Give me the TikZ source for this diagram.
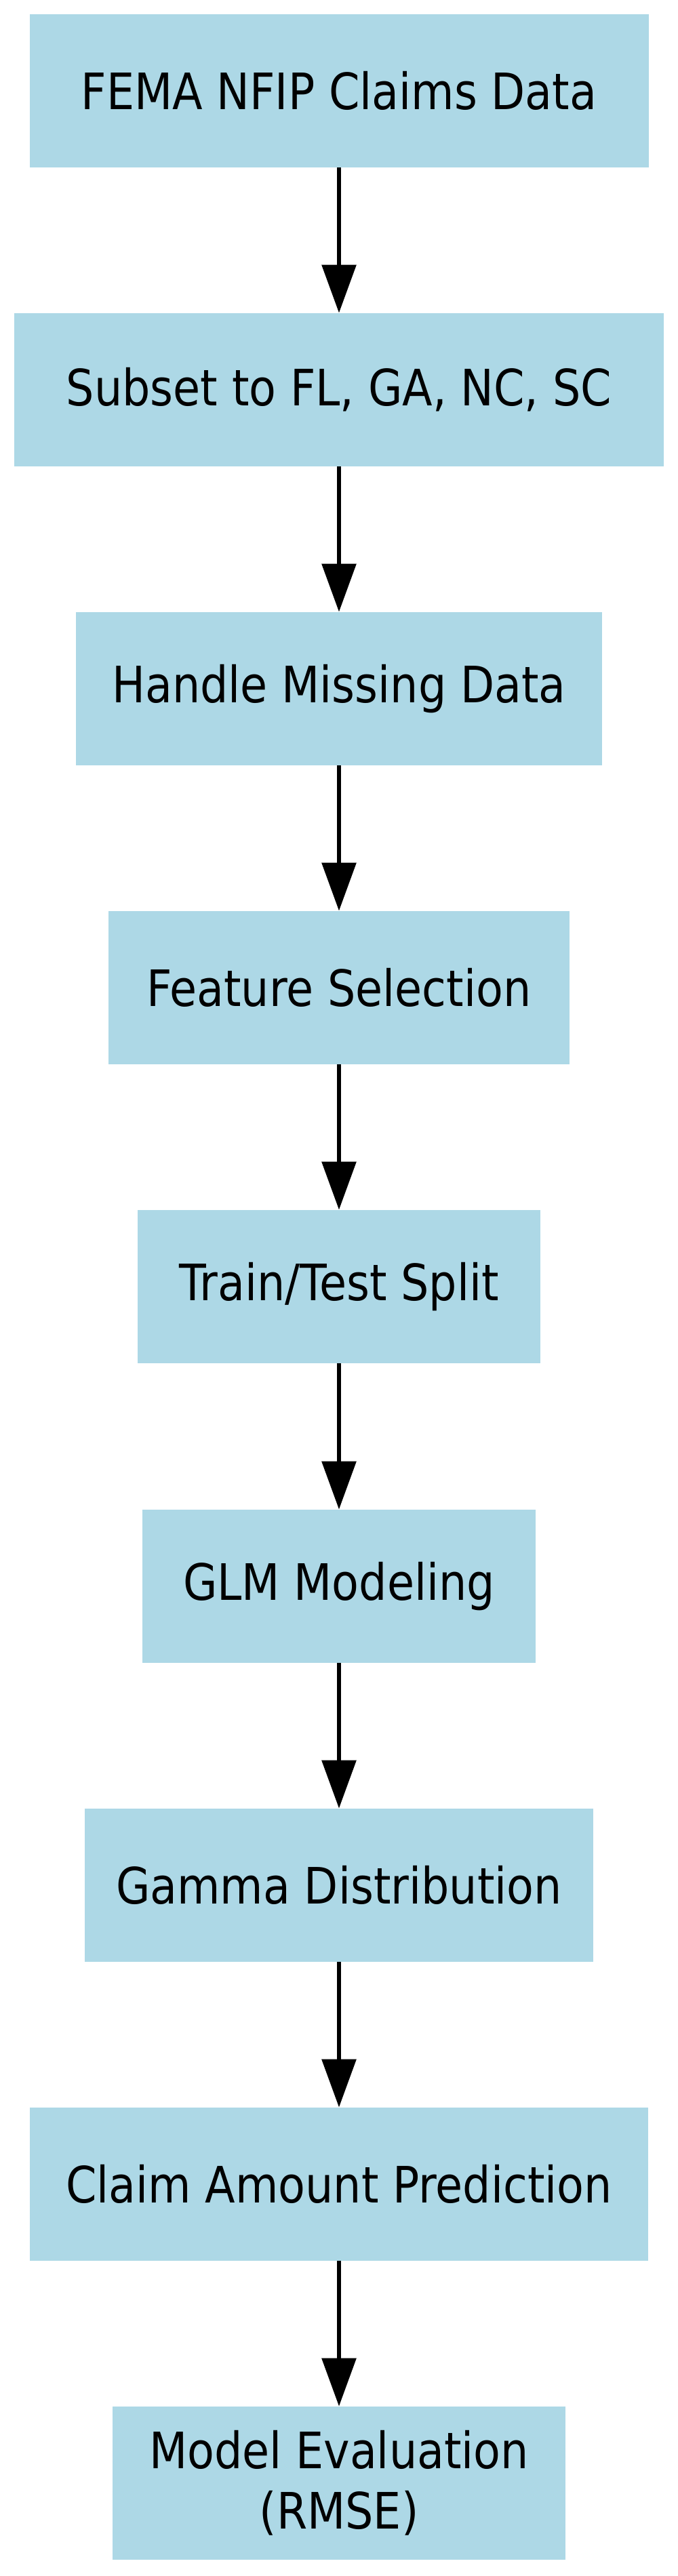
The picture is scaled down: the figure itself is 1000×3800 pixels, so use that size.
\documentclass[tikz,border=0pt]{standalone}
\usepackage{fontspec}
\setmainfont{DejaVu Sans}[FakeStretch=0.88]
\usetikzlibrary{arrows.meta}
\definecolor{boxblue}{HTML}{ADD8E6}
\begin{document}
\begin{tikzpicture}[x=0.5pt,y=-0.5pt,
  procbox/.style={rectangle, fill=boxblue, draw=none, inner sep=0pt,
    minimum height=113pt, align=center,
    font=\fontsize{37pt}{44.5pt}\selectfont},
  arr/.style={draw=black, line width=3pt,
    -{Triangle[length=35.5pt,width=25pt]}}]
\useasboundingbox (0,0) rectangle (1000,3800);
\node[procbox, minimum width=456.5pt] (b1) at (500,134) {FEMA NFIP Claims Data};
\node[procbox, minimum width=479pt] (b2) at (500,575) {Subset to FL, GA, NC, SC};
\node[procbox, minimum width=388pt] (b3) at (500,1016) {Handle Missing Data};
\node[procbox, minimum width=340pt] (b4) at (500,1457) {Feature Selection};
\node[procbox, minimum width=297pt] (b5) at (500,1898) {Train/Test Split};
\node[procbox, minimum width=290pt] (b6) at (500,2340) {GLM Modeling};
\node[procbox, minimum width=375pt] (b7) at (500,2781) {Gamma Distribution};
\node[procbox, minimum width=456pt] (b8) at (500,3222) {Claim Amount Prediction};
\node[procbox, minimum width=334pt] (b9) at (500,3663) {Model Evaluation\\(RMSE)};
\foreach \a/\b in {b1/b2,b2/b3,b3/b4,b4/b5,b5/b6,b6/b7,b7/b8,b8/b9}
  \draw[arr] (\a.south) -- (\b.north);
\end{tikzpicture}
\end{document}
